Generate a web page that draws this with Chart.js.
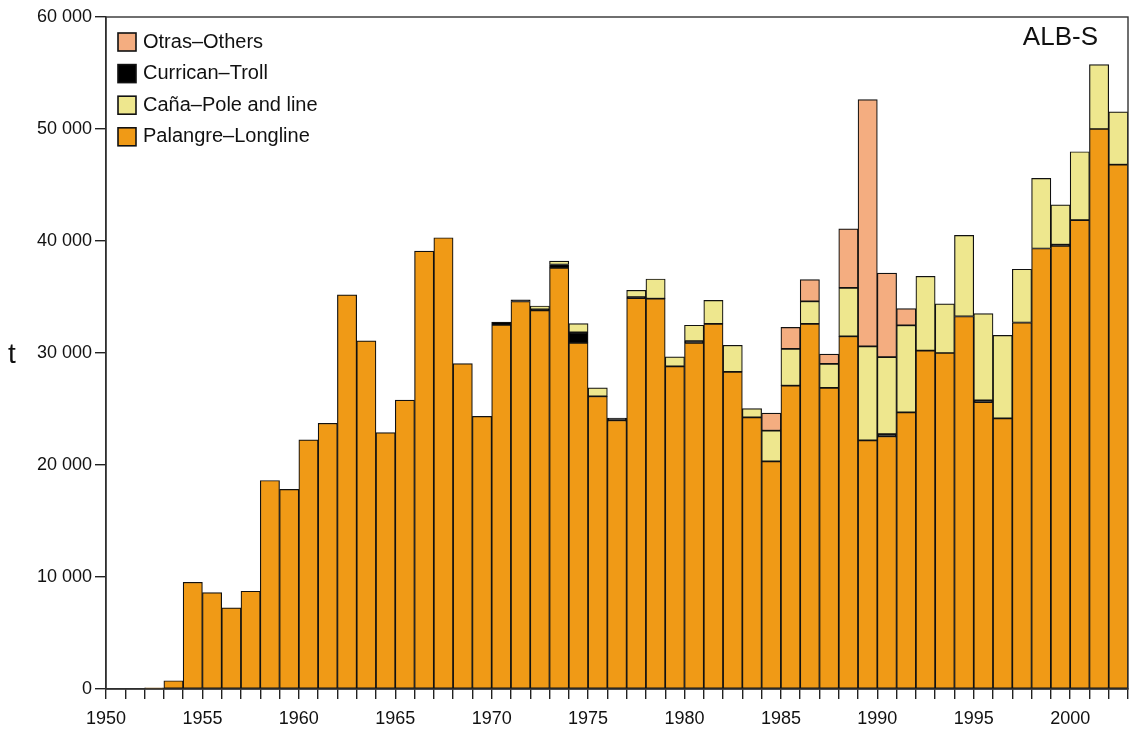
<!DOCTYPE html>
<html>
<head>
<meta charset="utf-8">
<script src="https://cdn.jsdelivr.net/npm/chart.js@4.4.1/dist/chart.umd.min.js"></script>
<style>
  html, body { margin: 0; background: #fff; }
  #wrap { position: relative; width: 1133px; height: 730px; }
</style>
</head>
<body>
<div id="wrap"><canvas id="chart" width="1133" height="730"></canvas></div>
<script>
// ALB-S catches (t) by gear, 1950-2002
const years = [1950, 1951, 1952, 1953, 1954, 1955, 1956, 1957, 1958, 1959,
  1960, 1961, 1962, 1963, 1964, 1965, 1966, 1967, 1968, 1969,
  1970, 1971, 1972, 1973, 1974, 1975, 1976, 1977, 1978, 1979,
  1980, 1981, 1982, 1983, 1984, 1985, 1986, 1987, 1988, 1989,
  1990, 1991, 1992, 1993, 1994, 1995, 1996, 1997, 1998, 1999,
  2000, 2001, 2002];
const longline = [0, 0, 100, 740, 9530, 8610, 7240, 8730, 18620, 17820,
  22250, 23720, 35190, 31080, 22890, 25800, 39090, 40290, 29050, 24340,
  32500, 34600, 33800, 37600, 30900, 26130, 23990, 34900, 34850, 28800,
  30900, 32600, 28310, 24250, 20320, 27080, 32600, 26880, 31490, 22200,
  22560, 24700, 30210, 30000, 33260, 25620, 24160, 32720, 39330, 39570,
  41870, 50000, 46810];
const troll = [0, 0, 0, 0, 0, 0, 0, 0, 0, 0,
  0, 0, 0, 0, 0, 0, 0, 0, 0, 0,
  250, 150, 100, 300, 950, 0, 200, 100, 0, 0,
  150, 0, 0, 0, 0, 0, 0, 0, 0, 0,
  200, 0, 0, 0, 0, 150, 0, 0, 0, 100,
  0, 0, 0];
const pole = [0, 0, 0, 0, 0, 0, 0, 0, 0, 0,
  0, 0, 0, 0, 0, 0, 0, 0, 0, 0,
  0, 0, 300, 300, 775, 750, 0, 600, 1760, 850,
  1430, 2100, 2380, 780, 2740, 3280, 2020, 2140, 4320, 8390,
  6880, 7770, 6640, 4380, 7240, 7750, 7410, 4760, 6260, 3560,
  6100, 5750, 4720];
const others = [0, 0, 0, 0, 0, 0, 0, 0, 0, 0,
  0, 0, 0, 0, 0, 0, 0, 0, 0, 0,
  0, 0, 0, 0, 0, 0, 0, 0, 0, 0,
  0, 0, 0, 0, 1580, 1930, 1930, 890, 5270, 22030,
  7500, 1490, 0, 0, 0, 0, 0, 0, 0, 0,
  0, 0, 0];
const yTickLabels = ["0", "10 000", "20 000", "30 000", "40 000", "50 000", "60 000"];
const legendOrder = ["Otras–Others", "Currican–Troll", "Caña–Pole and line", "Palangre–Longline"];

const FONT = 'Arial, "Liberation Sans", sans-serif';
const pts = arr => arr.map((v, i) => ({ x: years[i] + 0.5, y: v }));
const bar = (label, values, color) => ({
  label, data: pts(values), backgroundColor: color,
  borderColor: "#111", borderWidth: 1.2, borderSkipped: false,
  barPercentage: 1, categoryPercentage: 1
});

const frame = {
  id: "frame",
  afterDraw(chart) {
    const { ctx, chartArea: a } = chart;
    ctx.save();
    ctx.strokeStyle = "#333";
    ctx.lineWidth = 1.4;
    ctx.strokeRect(a.left, a.top, a.right - a.left, a.bottom - a.top);
    // legend, top-left inside the plot
    ctx.font = "20px " + FONT;
    ctx.textBaseline = "middle";
    legendOrder.forEach((name, i) => {
      const d = chart.data.datasets.find(s => s.label === name);
      const y = a.top + 25 + i * 31.6;
      ctx.fillStyle = d.backgroundColor;
      ctx.fillRect(a.left + 12, y - 9, 18, 18);
      ctx.strokeStyle = "#111";
      ctx.lineWidth = 1.6;
      ctx.strokeRect(a.left + 12, y - 9, 18, 18);
      ctx.fillStyle = "#111";
      ctx.fillText(d.label, a.left + 37, y);
    });
    ctx.font = "26px " + FONT;
    ctx.textAlign = "right";
    ctx.fillText("ALB-S", a.right - 30, a.top + 21);
    ctx.font = "28px " + FONT;
    ctx.textAlign = "left";
    ctx.fillText("t", 8, (a.top + a.bottom) / 2 + 2);
    ctx.restore();
  }
};

new Chart(document.getElementById("chart"), {
  type: "bar",
  data: {
    datasets: [
      bar("Palangre–Longline", longline, "#F09A16"),
      bar("Currican–Troll", troll, "#000000"),
      bar("Caña–Pole and line", pole, "#EEE78E"),
      bar("Otras–Others", others, "#F4AD80")
    ]
  },
  options: {
    responsive: false,
    animation: false,
    layout: { padding: { left: 0, right: 5, top: 17, bottom: 0 } },
    plugins: { legend: { display: false }, tooltip: { enabled: false } },
    scales: {
      x: {
        type: "linear", stacked: true, min: 1950, max: 2003, offset: false,
        grid: { offset: false, drawOnChartArea: false, tickLength: 10, color: "#222", lineWidth: 1.4 },
        border: { color: "#222", width: 1.4 },
        ticks: {
          stepSize: 1, maxTicksLimit: 100, autoSkip: false, maxRotation: 0, padding: 9,
          color: "#111", font: { family: FONT, size: 18 },
          callback: v => (v % 5 === 0 ? String(v) : "")
        },
        afterFit: s => { s.height = 41; s.paddingLeft = 0; s.paddingRight = 0; }
      },
      y: {
        stacked: true, min: 0, max: 60000,
        grid: { drawOnChartArea: false, tickLength: 11, color: "#222", lineWidth: 1.4 },
        border: { color: "#222", width: 1.4 },
        ticks: {
          stepSize: 10000, padding: 3, color: "#111", font: { family: FONT, size: 18 },
          callback: (v, i) => yTickLabels[i]
        },
        afterFit: s => { s.width = 106; }
      }
    }
  },
  plugins: [frame]
});
</script>
</body>
</html>
